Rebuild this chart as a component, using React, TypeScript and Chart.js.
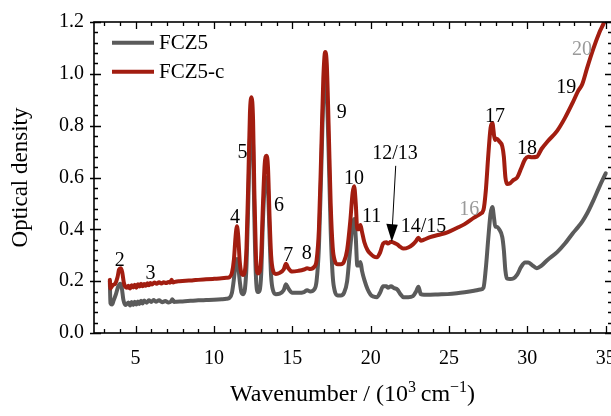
import React, { useEffect, useRef } from "react";
import { Chart, registerables } from "chart.js";

Chart.register(...registerables);

// ---- Data ----
const redX = [3.36, 3.4, 3.55, 3.7, 3.85, 3.95, 4.05, 4.15, 4.25, 4.35, 4.45, 4.55, 4.65, 4.75, 4.85, 4.95, 5.05, 5.15, 5.25, 5.35, 5.45, 5.55, 5.65, 5.75, 5.85, 5.95, 6.05, 6.2, 6.35, 6.5, 6.65, 6.8, 6.95, 7.1, 7.2, 7.3, 7.4, 7.55, 7.8, 8.2, 8.6, 9.0, 9.5, 10.0, 10.5, 10.8, 11.0, 11.15, 11.28, 11.38, 11.47, 11.55, 11.65, 11.75, 11.87, 11.98, 12.08, 12.2, 12.3, 12.4, 12.5, 12.58, 12.68, 12.8, 12.92, 13.02, 13.12, 13.24, 13.35, 13.45, 13.55, 13.65, 13.78, 13.95, 14.2, 14.45, 14.6, 14.75, 15.0, 15.4, 15.75, 15.95, 16.15, 16.4, 16.55, 16.7, 16.85, 16.98, 17.1, 17.2, 17.32, 17.45, 17.58, 17.72, 17.9, 18.1, 18.3, 18.5, 18.7, 18.85, 18.95, 19.05, 19.15, 19.25, 19.35, 19.45, 19.6, 19.8, 20.0, 20.2, 20.4, 20.6, 20.8, 21.0, 21.1, 21.3, 21.5, 21.7, 21.9, 22.1, 22.4, 22.7, 22.9, 23.05, 23.2, 23.4, 23.8, 24.3, 24.9, 25.5, 26.0, 26.6, 27.0, 27.2, 27.35, 27.5, 27.65, 27.77, 27.88, 27.95, 28.05, 28.2, 28.4, 28.5, 28.6, 28.7, 28.9, 29.1, 29.35, 29.6, 29.85, 30.05, 30.3, 30.6, 30.9, 31.3, 31.9, 32.4, 32.9, 33.25, 33.5, 33.8, 34.2, 34.6, 34.9, 35.0];
const redY = [0.205, 0.172, 0.185, 0.19, 0.215, 0.245, 0.25, 0.235, 0.195, 0.178, 0.175, 0.182, 0.172, 0.184, 0.176, 0.186, 0.175, 0.188, 0.179, 0.19, 0.18, 0.189, 0.182, 0.192, 0.184, 0.193, 0.187, 0.195, 0.19, 0.196, 0.191, 0.196, 0.193, 0.197, 0.194, 0.205, 0.195, 0.198, 0.2, 0.202, 0.203, 0.205, 0.207, 0.209, 0.211, 0.213, 0.216, 0.232, 0.285, 0.37, 0.412, 0.375, 0.275, 0.232, 0.224, 0.24, 0.33, 0.6, 0.85, 0.91, 0.82, 0.55, 0.3, 0.23, 0.236, 0.3, 0.48, 0.65, 0.684, 0.64, 0.45, 0.3, 0.24, 0.228, 0.232, 0.245, 0.267, 0.25, 0.237, 0.24, 0.245, 0.25, 0.247, 0.255, 0.28, 0.4, 0.7, 0.98, 1.084, 1.04, 0.8, 0.5, 0.33, 0.278, 0.265, 0.265, 0.275, 0.32, 0.43, 0.54, 0.566, 0.5, 0.4, 0.4, 0.417, 0.39, 0.35, 0.32, 0.305, 0.295, 0.292, 0.31, 0.345, 0.35, 0.345, 0.352, 0.348, 0.342, 0.332, 0.326, 0.33, 0.342, 0.355, 0.368, 0.356, 0.36, 0.37, 0.378, 0.388, 0.405, 0.42, 0.445, 0.46, 0.475, 0.55, 0.68, 0.79, 0.81, 0.76, 0.745, 0.75, 0.74, 0.72, 0.68, 0.6, 0.575, 0.578, 0.59, 0.6, 0.635, 0.67, 0.68, 0.678, 0.68, 0.71, 0.74, 0.78, 0.83, 0.89, 0.935, 0.96, 1.02, 1.095, 1.16, 1.2, 1.22];

const grayX = [3.36, 3.4, 3.5, 3.6, 3.75, 3.9, 4.02, 4.12, 4.22, 4.35, 4.45, 4.55, 4.65, 4.75, 4.85, 4.95, 5.05, 5.15, 5.25, 5.35, 5.45, 5.55, 5.7, 5.85, 6.0, 6.15, 6.3, 6.5, 6.7, 6.9, 7.1, 7.25, 7.35, 7.45, 7.6, 8.0, 8.5, 9.0, 9.5, 10.0, 10.5, 10.8, 11.0, 11.15, 11.28, 11.38, 11.47, 11.55, 11.65, 11.75, 11.87, 11.98, 12.08, 12.2, 12.3, 12.4, 12.5, 12.58, 12.68, 12.8, 12.92, 13.02, 13.12, 13.24, 13.35, 13.45, 13.55, 13.65, 13.78, 13.95, 14.2, 14.45, 14.6, 14.75, 15.0, 15.4, 15.75, 15.95, 16.15, 16.4, 16.55, 16.7, 16.85, 16.98, 17.1, 17.2, 17.32, 17.45, 17.58, 17.72, 17.9, 18.1, 18.3, 18.5, 18.7, 18.85, 18.95, 19.05, 19.15, 19.25, 19.35, 19.45, 19.6, 19.8, 20.0, 20.2, 20.4, 20.6, 20.8, 21.0, 21.1, 21.3, 21.5, 21.7, 21.9, 22.1, 22.4, 22.7, 22.9, 23.05, 23.2, 23.4, 23.8, 24.3, 24.9, 25.5, 26.0, 26.6, 27.0, 27.2, 27.35, 27.5, 27.65, 27.77, 27.88, 27.95, 28.05, 28.2, 28.4, 28.5, 28.6, 28.7, 28.9, 29.1, 29.35, 29.6, 29.85, 30.05, 30.3, 30.6, 30.9, 31.3, 31.9, 32.4, 32.9, 33.25, 33.5, 33.8, 34.2, 34.6, 35.0];
const grayY = [0.2, 0.115, 0.11, 0.125, 0.15, 0.18, 0.19, 0.175, 0.13, 0.108, 0.112, 0.118, 0.106, 0.12, 0.108, 0.121, 0.11, 0.122, 0.112, 0.124, 0.114, 0.125, 0.117, 0.126, 0.12, 0.127, 0.121, 0.126, 0.119, 0.123, 0.118, 0.121, 0.13, 0.12, 0.121, 0.122, 0.124, 0.126, 0.127, 0.128, 0.13, 0.132, 0.136, 0.155, 0.21, 0.265, 0.286, 0.26, 0.2, 0.158, 0.15, 0.17, 0.26, 0.52, 0.75, 0.8, 0.72, 0.45, 0.22, 0.158, 0.165, 0.23, 0.42, 0.57, 0.6, 0.56, 0.38, 0.22, 0.163, 0.15, 0.152, 0.165, 0.188, 0.172, 0.155, 0.155, 0.158, 0.165, 0.16, 0.168, 0.2, 0.33, 0.63, 0.9, 0.98, 0.93, 0.7, 0.4, 0.22, 0.16, 0.145, 0.145, 0.155, 0.2, 0.33, 0.42, 0.44, 0.37, 0.26, 0.26, 0.274, 0.24, 0.205, 0.17, 0.148, 0.14, 0.138, 0.155, 0.18, 0.18, 0.175, 0.18, 0.173, 0.168, 0.15, 0.138, 0.138, 0.142, 0.16, 0.178, 0.15, 0.148, 0.148, 0.149, 0.15, 0.153, 0.157, 0.163, 0.168, 0.175, 0.25, 0.36, 0.46, 0.486, 0.44, 0.41, 0.41, 0.4, 0.37, 0.32, 0.24, 0.21, 0.208, 0.21, 0.225, 0.255, 0.272, 0.272, 0.262, 0.25, 0.26, 0.283, 0.312, 0.345, 0.385, 0.41, 0.43, 0.46, 0.51, 0.565, 0.616];

const seriesNames = ["FCZ5", "FCZ5-c"];
const xTickValues = [5, 10, 15, 20, 25, 30, 35];
const yTickValues = [0, 0.2, 0.4, 0.6, 0.8, 1.0, 1.2];

// peak labels: [text, wavenumber, optical density, grey?]
const peakLabels: [string, number, number, boolean][] = [
  ["2", 4.0, 0.28, false],
  ["3", 5.95, 0.23, false],
  ["4", 11.35, 0.445, false],
  ["5", 11.83, 0.695, false],
  ["6", 14.15, 0.492, false],
  ["7", 14.75, 0.3, false],
  ["8", 15.92, 0.305, false],
  ["9", 18.15, 0.849, false],
  ["10", 18.94, 0.595, false],
  ["11", 20.07, 0.448, false],
  ["12/13", 21.55, 0.69, false],
  ["14/15", 23.37, 0.411, false],
  ["16", 26.3, 0.475, true],
  ["17", 27.94, 0.834, false],
  ["18", 29.97, 0.712, false],
  ["19", 32.48, 0.948, false],
  ["20", 33.48, 1.093, true],
];

const RED = "#A21D10";
const GRAY = "#5B5B5B";
const FONT = "'Liberation Serif', 'Times New Roman', serif";

const decor = {
  id: "decor",
  afterDraw(chart: any) {
    const ctx = chart.ctx;
    const xs = chart.scales.x;
    const ys = chart.scales.y;
    const { left, right, top, bottom } = chart.chartArea;
    ctx.save();
    ctx.strokeStyle = "#000";
    ctx.lineWidth = 1.6;
    ctx.lineCap = "butt";
    ctx.strokeRect(left, top, right - left, bottom - top);
    ctx.lineWidth = 1.3;
    ctx.beginPath();
    // x ticks
    for (let v = 3; v <= 35; v++) {
      const px = Math.round(xs.getPixelForValue(v)) + 0.5;
      const major = v % 5 === 0;
      const len = major ? 7 : 4;
      ctx.moveTo(px, bottom);
      ctx.lineTo(px, bottom - len);
      ctx.moveTo(px, top);
      ctx.lineTo(px, top + len);
    }
    // y ticks
    for (let i = 0; i <= 30; i++) {
      const v = i * 0.04;
      const py = Math.round(ys.getPixelForValue(v)) + 0.5;
      const major = i % 5 === 0;
      const len = major ? 7 : 4;
      ctx.moveTo(left, py);
      ctx.lineTo(left + len, py);
      ctx.moveTo(right, py);
      ctx.lineTo(right - len, py);
      if (major) {
        ctx.moveTo(left, py);
        ctx.lineTo(left - 4, py);
      }
    }
    ctx.stroke();

    // legend
    const legendItems = [
      [seriesNames[0], GRAY, 42.7],
      [seriesNames[1], RED, 71.7],
    ] as [string, string, number][];
    ctx.font = `21px ${FONT}`;
    ctx.textAlign = "left";
    ctx.textBaseline = "middle";
    for (const [name, col, y] of legendItems) {
      ctx.strokeStyle = col;
      ctx.lineWidth = 4;
      ctx.beginPath();
      ctx.moveTo(112, y);
      ctx.lineTo(154, y);
      ctx.stroke();
      ctx.fillStyle = "#000";
      ctx.fillText(name, 159, y + 1);
    }

    // peak labels
    ctx.font = `20px ${FONT}`;
    ctx.textAlign = "center";
    ctx.textBaseline = "middle";
    for (const [t, xv, yv, grey] of peakLabels) {
      ctx.fillStyle = grey ? "#9A9A9A" : "#000";
      ctx.fillText(t, xs.getPixelForValue(xv), ys.getPixelForValue(yv));
    }

    // arrow for 12/13
    const ax0 = xs.getPixelForValue(21.6);
    const ay0 = ys.getPixelForValue(0.645);
    const ax1 = xs.getPixelForValue(21.35);
    const ay1 = ys.getPixelForValue(0.352);
    ctx.strokeStyle = "#000";
    ctx.lineWidth = 1;
    ctx.beginPath();
    ctx.moveTo(ax0, ay0);
    ctx.lineTo(ax1 + 0.5, ay1 - 14);
    ctx.stroke();
    ctx.fillStyle = "#000";
    ctx.beginPath();
    ctx.moveTo(ax1, ay1);
    ctx.lineTo(ax1 - 5.5, ay1 - 18);
    ctx.lineTo(ax1 + 6, ay1 - 17);
    ctx.closePath();
    ctx.fill();

    // axis titles
    ctx.fillStyle = "#000";
    ctx.textBaseline = "alphabetic";
    const parts: [string, boolean][] = [
      ["Wavenumber / (10", false],
      ["3", true],
      ["\u2009cm", false],
      ["\u22121", true],
      [")", false],
    ];
    const fontFor = (sup: boolean) => (sup ? `16px ${FONT}` : `24px ${FONT}`);
    let total = 0;
    for (const [s, sup] of parts) {
      ctx.font = fontFor(sup);
      total += ctx.measureText(s).width;
    }
    let cx = (left + 611) / 2 - total / 2;
    const baseY = 401;
    ctx.textAlign = "left";
    for (const [s, sup] of parts) {
      ctx.font = fontFor(sup);
      ctx.fillText(s, cx, sup ? baseY - 9 : baseY);
      cx += ctx.measureText(s).width;
    }
    // y title
    ctx.font = `23px ${FONT}`;
    ctx.translate(27, (top + bottom) / 2);
    ctx.rotate(-Math.PI / 2);
    ctx.textAlign = "center";
    ctx.textBaseline = "alphabetic";
    ctx.fillText("Optical density", 0, 0);
    ctx.restore();
  },
};

export default function App() {
  const ref = useRef<HTMLCanvasElement | null>(null);
  useEffect(() => {
    if (!ref.current) return;
    const common = {
      borderWidth: 4,
      pointRadius: 0,
      cubicInterpolationMode: "monotone",
      borderJoinStyle: "round",
      borderCapStyle: "round",
    };
    const chart = new Chart(ref.current, {
      type: "line",
      data: {
        datasets: [
          {
            label: seriesNames[1],
            data: redX.map((x, i) => ({ x, y: redY[i] })),
            borderColor: RED,
            ...common,
          },
          {
            label: seriesNames[0],
            data: grayX.map((x, i) => ({ x, y: grayY[i] })),
            borderColor: GRAY,
            ...common,
          },
        ],
      },
      options: {
        responsive: false,
        animation: false,
        devicePixelRatio: 1,
        layout: { padding: { left: 0, top: 12, right: 28, bottom: 0 } },
        plugins: { legend: { display: false }, tooltip: { enabled: false } },
        scales: {
          x: {
            type: "linear",
            min: 2.35,
            max: 35.4,
            grid: { display: false, drawTicks: false },
            border: { display: false },
            afterBuildTicks: (s: any) => {
              s.ticks = xTickValues.map((v) => ({ value: v }));
            },
            afterFit: (s: any) => {
              s.height = 83;
            },
            ticks: {
              padding: 14,
              color: "#000",
              font: { family: FONT, size: 20 },
              callback: (v: any) => String(v),
            },
          },
          y: {
            min: 0,
            max: 1.2,
            grid: { display: false, drawTicks: false },
            border: { display: false },
            afterBuildTicks: (s: any) => {
              s.ticks = yTickValues.map((v) => ({ value: v }));
            },
            afterFit: (s: any) => {
              s.width = 94;
            },
            ticks: {
              padding: 10,
              color: "#000",
              font: { family: FONT, size: 20 },
              callback: (v: any) => Number(v).toFixed(1),
            },
          },
        },
      },
      plugins: [decor],
    } as any);
    return () => chart.destroy();
  }, []);
  return (
    <div
      style={{
        position: "fixed",
        left: 0,
        top: 0,
        width: 611,
        height: 416,
        overflow: "hidden",
        background: "#fff",
      }}
    >
      <canvas ref={ref} width={640} height={416} style={{ display: "block" }} />
    </div>
  );
}
